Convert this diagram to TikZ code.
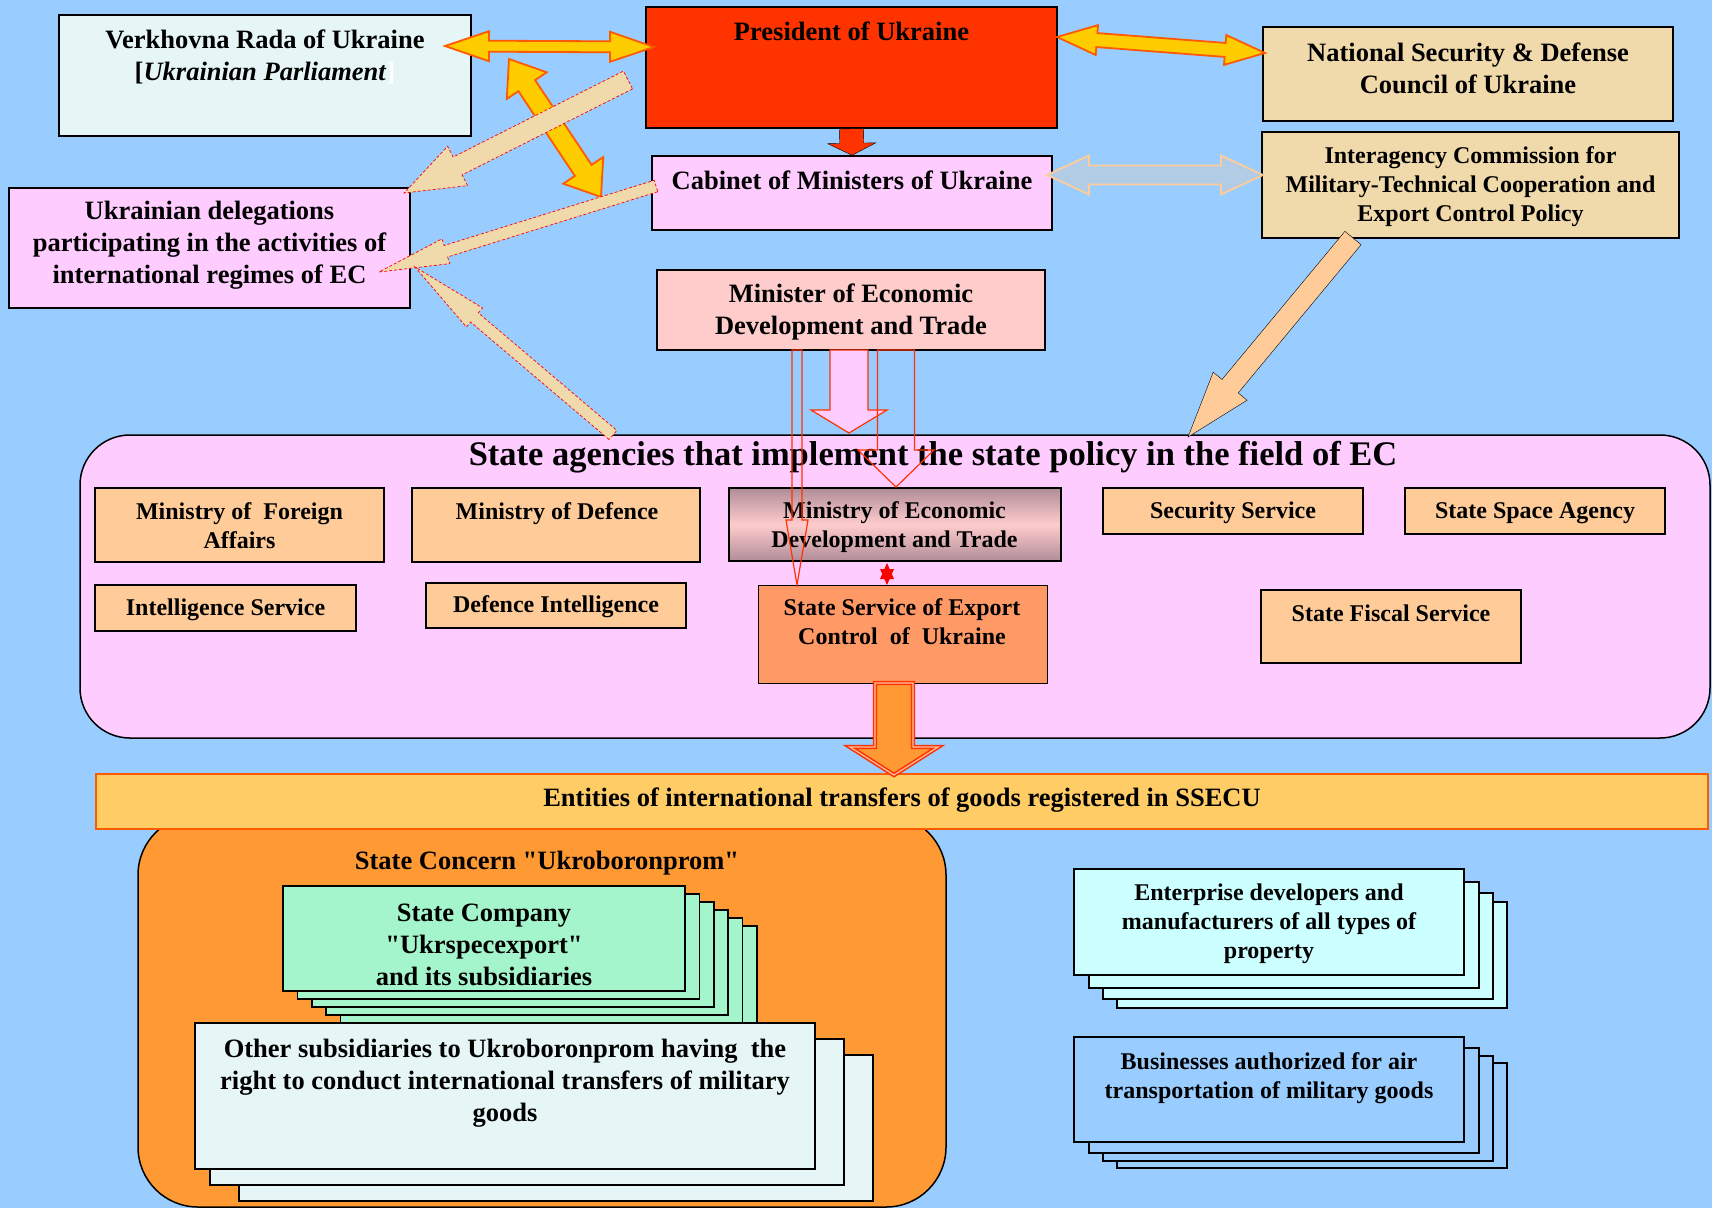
\documentclass[tikz,border=0pt]{standalone}
\usepackage{fontspec}
\setmainfont{Liberation Serif}
\usetikzlibrary{calc}

\definecolor{sky}{HTML}{99CCFF}
\definecolor{pres}{HTML}{FF3300}
\definecolor{wheatbox}{HTML}{F0D9AB}
\definecolor{pinkbox}{HTML}{FFCCFF}
\definecolor{rosebox}{HTML}{FFCCCC}
\definecolor{peach}{HTML}{FFCC99}
\definecolor{mint}{HTML}{A5F5CC}
\definecolor{ice}{HTML}{E6F5F5}
\definecolor{aqua}{HTML}{CCFFFF}
\definecolor{salmon}{HTML}{FF9966}
\definecolor{amber}{HTML}{FFCC66}
\definecolor{tangerine}{HTML}{FF9933}
\definecolor{gold}{HTML}{FFCC00}
\definecolor{goldedge}{HTML}{FF5A00}
\definecolor{mauve}{HTML}{B08C98}
\definecolor{steel}{HTML}{B3CCE6}

% block arrow: style, from, to, half shaft, half head, head length
\newcommand\blkarrow[6]{%
  \coordinate (hb) at ($(#3)!#6!(#2)$);
  \draw[#1] ($(#2)!#4!90:(#3)$) -- ($(hb)!#4!90:(#3)$) -- ($(hb)!#5!90:(#3)$) -- (#3)
    -- ($(hb)!#5!-90:(#3)$) -- ($(hb)!#4!-90:(#3)$) -- ($(#2)!#4!-90:(#3)$) -- cycle;}
\newcommand\dblarrow[6]{%
  \coordinate (ha) at ($(#2)!#6!(#3)$);
  \coordinate (hb) at ($(#3)!#6!(#2)$);
  \draw[#1] (#2) -- ($(ha)!#5!90:(#3)$) -- ($(ha)!#4!90:(#3)$) -- ($(hb)!#4!90:(#3)$)
    -- ($(hb)!#5!90:(#3)$) -- (#3) -- ($(hb)!#5!-90:(#3)$) -- ($(hb)!#4!-90:(#3)$)
    -- ($(ha)!#4!-90:(#3)$) -- ($(ha)!#5!-90:(#3)$) -- cycle;}

\begin{document}
\begin{tikzpicture}[x=1pt,y=-1pt,
  box/.style={draw=black,line width=1.5pt,inner sep=0pt},
  big/.style={font=\bfseries\fontsize{26.5}{32}\selectfont,align=center,inner sep=0pt},
  small/.style={font=\bfseries\fontsize{24}{29}\selectfont,align=center,inner sep=0pt},
  goldarrow/.style={fill=gold,draw=goldedge,line width=1.8pt},
  wheatarrow/.style={fill=wheatbox,draw=red,densely dashed,line width=0.7pt},
  outline/.style={draw=pres,line width=1.2pt}]
\useasboundingbox (0,0) rectangle (1712,1208);
\fill[sky] (0,0) rectangle (1712,1208);

\node[box,fill=ice,minimum width=412pt,minimum height=121pt] (rada) at (265,75.5) {};
\node[big] (radat) at (265,57) {Verkhovna Rada of Ukraine\\{[}\textit{Ukrainian Parliament}{\color{white}]}};
\node[box,fill=pres,minimum width=411pt,minimum height=121pt] (pres) at (851.5,67.5) {};
\node[big] (prest) at (851.5,31) {President of Ukraine};
\node[box,fill=wheatbox,minimum width=410pt,minimum height=94pt] (nsdc) at (1468,74) {};
\node[big] (nsdct) at (1468,68) {National Security \& Defense\\Council of Ukraine};
\node[box,fill=pinkbox,minimum width=400pt,minimum height=74pt] (cab) at (852,193) {};
\node[big] (cabt) at (852,180) {Cabinet of Ministers of Ukraine};
\node[box,fill=wheatbox,minimum width=417pt,minimum height=106pt] (icom) at (1470.5,185) {};
\node[small] (icomt) at (1470.5,187) {Interagency Commission for\\Military-Technical Cooperation and\\Export Control Policy};
\node[box,fill=rosebox,minimum width=388pt,minimum height=80pt] (minister) at (851,310) {};
\node[big] (ministert) at (851,312) {Minister of Economic\\Development and Trade};
\node[box,fill=pinkbox,minimum width=401pt,minimum height=120pt] (deleg) at (209.5,248) {};
\node[big] (delegt) at (209.5,245) {Ukrainian delegations\\participating in the activities of\\international regimes of EC};

\coordinate (rp1) at (445,46); \coordinate (rp2) at (654,47);
\dblarrow{goldarrow}{rp1}{rp2}{5.5pt}{15pt}{44pt}
\coordinate (pn1) at (1057,37); \coordinate (pn2) at (1265,53);
\dblarrow{goldarrow}{pn1}{pn2}{7pt}{15pt}{40pt}
\coordinate (rc1) at (509,59); \coordinate (rc2) at (601,197);
\dblarrow{goldarrow}{rc1}{rc2}{10pt}{24pt}{32pt}
\blkarrow{fill=pres}{pres.south}{cab.north}{12pt}{24pt}{12pt}
\coordinate (ci1) at (1047,175); \coordinate (ci2) at (1263,175);
\dblarrow{fill=steel,draw=peach,line width=1.8pt}{ci1}{ci2}{9.5pt}{19.5pt}{42pt}
\coordinate (pd1) at (628,80); \coordinate (pd2) at (404,193);
\blkarrow{wheatarrow}{pd1}{pd2}{10pt}{22pt}{60pt}
\coordinate (cd1) at (656,186); \coordinate (cd2) at (379,272);
\blkarrow{wheatarrow}{cd1}{cd2}{6pt}{13pt}{70pt}

% state agencies
\node[box,fill=pinkbox,rounded corners=50pt,minimum width=1630pt,minimum height=303pt] (agencies) at (895,586.5) {};
\node[font=\bfseries\fontsize{34.5}{40}\selectfont,inner sep=0pt] (agenciest) at (933,457) {State agencies that implement the state policy in the field of EC};
\node[box,fill=peach,minimum width=289pt,minimum height=74pt] (mfa) at (239.5,525) {};
\node[small] (mfat) at (239.5,526) {Ministry of~ Foreign\\Affairs};
\node[box,fill=peach,minimum width=288pt,minimum height=74pt] (mod) at (556,525) {};
\node[small] (modt) at (557,514) {Ministry of Defence};
\node[box,top color=mauve,bottom color=mauve,middle color=rosebox,minimum width=332pt,minimum height=73pt] (mined) at (895,524.5) {};
\node[small] (minedt) at (894.5,527) {Ministry of Economic\\Development and Trade};
\node[box,fill=peach,minimum width=260pt,minimum height=46pt] (ssb) at (1233,511) {};
\node[small] (ssbt) at (1233,513) {Security Service};
\node[box,fill=peach,minimum width=260pt,minimum height=46pt] (ssa) at (1535,511) {};
\node[small] (ssat) at (1535,513) {State Space Agency};
\node[box,fill=peach,minimum width=261pt,minimum height=46pt] (intel) at (225.5,608) {};
\node[small] (intelt) at (225.5,610) {Intelligence Service};
\node[box,fill=peach,minimum width=260pt,minimum height=45pt] (defint) at (556,605.5) {};
\node[small] (defintt) at (556,607) {Defence Intelligence};
\node[box,fill=salmon,line width=1pt,minimum width=289pt,minimum height=98pt] (ssecu) at (902.5,634) {};
\node[small] (ssecut) at (902,622) {State Service of Export\\Control~ of~ Ukraine};
\node[box,fill=peach,minimum width=260pt,minimum height=73pt] (sfs) at (1391,626.5) {};
\node[small] (sfst) at (1391,613) {State Fiscal Service};

\coordinate (ma1) at (797,350); \coordinate (ma2) at (797,585);
\blkarrow{outline}{ma1}{ma2}{5pt}{11pt}{65pt}
\coordinate (mb1) at (849,350); \coordinate (mb2) at (849,433);
\blkarrow{outline,fill=pinkbox}{mb1}{mb2}{19pt}{38pt}{23pt}
\coordinate (mc1) at (896,350); \coordinate (mc2) at (896,487);
\blkarrow{outline}{mc1}{mc2}{18.5pt}{38pt}{37pt}
\coordinate (link) at (887,574);
\fill[red] ($(link)+(0,-11)$) -- ($(link)+(7,5)$) -- ($(link)+(-7,5)$) -- cycle;
\fill[red] ($(link)+(0,11)$) -- ($(link)+(7,-5)$) -- ($(link)+(-7,-5)$) -- cycle;

\coordinate (ad1) at (613,435); \coordinate (ad2) at (415,267);
\blkarrow{wheatarrow}{ad1}{ad2}{6pt}{12.5pt}{78pt}
\coordinate (ia1) at (1353,238); \coordinate (ia2) at (1188,437);
\blkarrow{fill=peach}{ia1}{ia2}{10.5pt}{22pt}{66pt}

% entities
\node[box,fill=tangerine,rounded corners=60pt,minimum width=808pt,minimum height=392pt] (ukro) at (542,1011) {};
\node[big] (ukrot) at (547,863) {State Concern \textquotedbl Ukroboronprom\textquotedbl};
\node[draw=goldedge,fill=amber,line width=1.2pt,minimum width=1612pt,minimum height=55pt,inner sep=0pt] (entities) at (902,801.5) {};
\node[big] (entitiest) at (902,800) {Entities of international transfers of goods registered in SSECU};
\coordinate (se1) at (894,683); \coordinate (se2) at (894,775);
\blkarrow{fill=tangerine,draw=pres,double=salmon!60,double distance=1.2pt,line width=1.6pt}{se1}{se2}{19pt}{44pt}{28pt}

\foreach \k in {5,4,3,2,1}
  \draw[fill=mint,line width=1.5pt] (283+14.4*\k,886+8*\k) rectangle ++(402,105);
\node[box,fill=mint,minimum width=402pt,minimum height=105pt] (statco) at (484,938.5) {};
\node[big] (statcot) at (484,945) {State Company\\\textquotedbl Ukrspecexport\textquotedbl\\and its subsidiaries};
\foreach \xa/\ya/\xb/\yb in {239/1055/873/1201,210/1039/844/1185}
  \draw[fill=ice,line width=1.5pt] (\xa,\ya) rectangle (\xb,\yb);
\node[box,fill=ice,minimum width=620pt,minimum height=146pt] (other) at (505,1096) {};
\node[big] (othert) at (505,1083) {Other subsidiaries to Ukroboronprom having~ the\\right to conduct international transfers of military\\goods};

\foreach \xa/\ya in {43/33,29/24,15/13}
  \draw[fill=aqua,line width=1.5pt] (1074+\xa,869+\ya) rectangle ++(390,106);
\node[box,fill=aqua,minimum width=390pt,minimum height=106pt] (enterp) at (1269,922) {};
\node[small] (enterpt) at (1269,924) {Enterprise developers and\\manufacturers of all types of\\property};
\foreach \xa/\ya in {43/26,29/19,15/11}
  \draw[fill=sky,line width=1.5pt] (1074+\xa,1037+\ya) rectangle ++(390,105);
\node[box,fill=sky,minimum width=390pt,minimum height=105pt] (busin) at (1269,1089.5) {};
\node[small] (busint) at (1269,1078) {Businesses authorized for air\\transportation of military goods};
\end{tikzpicture}
\end{document}
